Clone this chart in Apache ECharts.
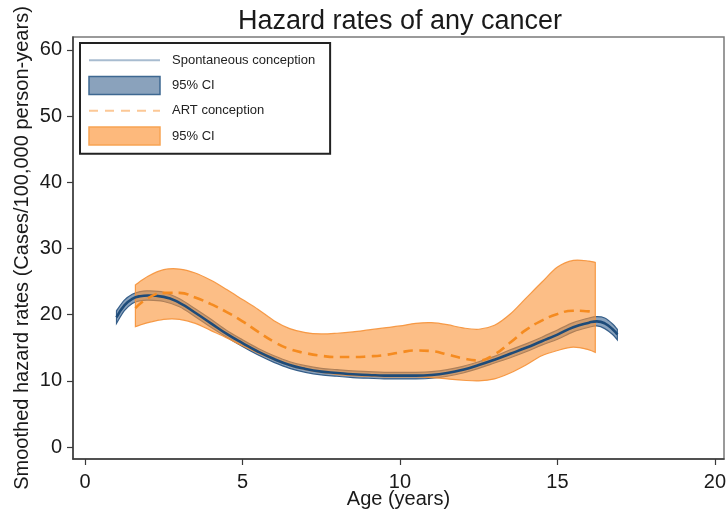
<!DOCTYPE html>
<html>
<head>
<meta charset="utf-8">
<script src="https://cdn.jsdelivr.net/npm/echarts@6/dist/echarts.min.js"></script>
<style>html,body{margin:0;padding:0;background:#fff}#c{width:726px;height:512px}</style>
</head>
<body>
<div id="c"></div>
<script>
// ---- Data ----
const xTicks = [0, 5, 10, 15, 20];
const yTicks = [0, 10, 20, 30, 40, 50, 60];

// Spontaneous conception (smoothed hazard + 95% CI)
const spAge   = [1.0, 1.25, 1.5, 1.75, 2.0, 2.5, 3.0, 3.5, 4.0, 4.5, 5.0, 5.5, 6.0, 6.5, 7.0, 7.5, 8.0, 8.5, 9.0, 9.5, 10.0, 10.5, 11.0, 11.5, 12.0, 12.5, 13.0, 13.5, 14.0, 14.5, 15.0, 15.5, 16.0, 16.25, 16.5, 16.75, 16.9];
const spRate  = [19.6, 21.4, 22.4, 22.8, 22.9, 22.7, 21.8, 20.3, 18.7, 17.1, 15.7, 14.4, 13.3, 12.4, 11.8, 11.4, 11.2, 11.0, 10.9, 10.8, 10.8, 10.8, 10.9, 11.2, 11.7, 12.4, 13.2, 14.1, 15.0, 16.0, 17.0, 18.1, 18.8, 19.0, 18.7, 17.8, 17.0];
const spLower = [18.7, 20.6, 21.7, 22.1, 22.2, 22.0, 21.2, 19.7, 18.1, 16.6, 15.2, 13.9, 12.8, 11.9, 11.3, 10.9, 10.7, 10.5, 10.4, 10.3, 10.3, 10.3, 10.4, 10.7, 11.2, 11.9, 12.7, 13.5, 14.4, 15.4, 16.3, 17.4, 18.1, 18.3, 17.9, 17.0, 16.2];
const spUpper = [20.6, 22.2, 23.1, 23.5, 23.6, 23.4, 22.4, 20.9, 19.3, 17.6, 16.2, 14.9, 13.8, 12.9, 12.3, 11.9, 11.7, 11.5, 11.4, 11.3, 11.3, 11.3, 11.4, 11.7, 12.2, 12.9, 13.7, 14.7, 15.6, 16.6, 17.7, 18.8, 19.5, 19.7, 19.5, 18.6, 17.8];

// ART conception (smoothed hazard + 95% CI)
const artAge   = [1.6, 2.0, 2.5, 3.0, 3.5, 4.0, 4.5, 5.0, 5.5, 6.0, 6.5, 7.0, 7.5, 8.0, 8.5, 9.0, 9.5, 10.0, 10.5, 11.0, 11.5, 12.0, 12.5, 13.0, 13.5, 14.0, 14.5, 15.0, 15.5, 16.0, 16.2];
const artRate  = [21.0, 22.5, 23.3, 23.3, 22.6, 21.6, 20.4, 19.0, 17.4, 15.9, 14.8, 14.2, 13.8, 13.6, 13.6, 13.7, 13.9, 14.3, 14.6, 14.5, 14.0, 13.4, 13.1, 14.0, 15.8, 17.7, 19.1, 20.1, 20.6, 20.5, 20.2];
const artLower = [18.2, 18.8, 19.3, 19.3, 18.7, 17.6, 16.5, 15.3, 14.2, 13.2, 12.3, 11.7, 11.3, 11.0, 10.8, 10.7, 10.6, 10.6, 10.6, 10.5, 10.3, 10.1, 10.0, 10.3, 11.2, 12.4, 13.8, 14.6, 15.1, 14.7, 14.3];
const artUpper = [24.5, 25.8, 26.8, 26.9, 26.3, 25.2, 23.8, 22.3, 20.8, 19.1, 17.9, 17.3, 17.1, 17.2, 17.4, 17.7, 18.0, 18.3, 18.7, 18.8, 18.5, 18.0, 17.8, 18.4, 20.1, 22.5, 24.9, 27.2, 28.2, 28.1, 27.9];

const seriesNames = ['Spontaneous conception', '95% CI (spontaneous)', 'ART conception', '95% CI (ART)'];

// ---- helpers ----
const pairs = (xs, ys) => xs.map((x, i) => [x, ys[i]]);
const triples = (xs, lo, hi) => xs.map((x, i) => [x, lo[i], hi[i]]);

// Catmull-Rom spline through pixel points -> SVG path commands
function splineCmds(pts, start) {
  let d = (start ? 'M' : 'L') + pts[0][0] + ',' + pts[0][1];
  for (let i = 0; i < pts.length - 1; i++) {
    const p0 = pts[Math.max(i - 1, 0)], p1 = pts[i], p2 = pts[i + 1], p3 = pts[Math.min(i + 2, pts.length - 1)];
    const c1x = p1[0] + (p2[0] - p0[0]) / 6, c1y = p1[1] + (p2[1] - p0[1]) / 6;
    const c2x = p2[0] - (p3[0] - p1[0]) / 6, c2y = p2[1] - (p3[1] - p1[1]) / 6;
    d += 'C' + c1x + ',' + c1y + ' ' + c2x + ',' + c2y + ' ' + p2[0] + ',' + p2[1];
  }
  return d;
}

function makeBand(name, xs, lo, hi, fill, stroke) {
  return {
    name: name, type: 'custom', silent: true,
    data: triples(xs, lo, hi),
    encode: {x: 0, y: [1, 2]},
    renderItem: function (params, api) {
      if (params.dataIndex !== 0) return null;
      const up = xs.map((x, i) => api.coord([x, hi[i]]));
      const dn = xs.map((x, i) => api.coord([x, lo[i]])).reverse();
      const d = splineCmds(up, true) + splineCmds(dn, false) + 'Z';
      return {
        type: 'path',
        shape: {pathData: d},
        style: {fill: fill, stroke: stroke, lineWidth: 1.2}
      };
    }
  };
}

const FONT = 'Liberation Sans, Arial, sans-serif';
const chart = echarts.init(document.getElementById('c'), null, {renderer: 'canvas'});

const option = {
  animation: false,
  backgroundColor: '#ffffff',
  textStyle: {fontFamily: FONT},
  title: {
    text: 'Hazard rates of any cancer',
    left: 395, top: 3, textAlign: 'center',
    textStyle: {fontFamily: FONT, fontSize: 27, fontWeight: 'normal', color: '#1a1a1a'}
  },
  grid: {
    left: 73, right: 2, top: 37, bottom: 53,
    containLabel: false, outerBoundsMode: 'none',
    show: true, borderColor: '#7a7a7a', borderWidth: 1.5, backgroundColor: '#fff'
  },
  legend: {
    orient: 'vertical', left: 80, top: 43,
    padding: [10, 15, 8, 8],
    itemWidth: 71, itemHeight: 18, itemGap: 8.3,
    borderColor: '#222', borderWidth: 2, backgroundColor: '#fff',
    selectedMode: false,
    textStyle: {fontFamily: FONT, fontSize: 13, color: '#222', padding: [0, 0, 0, 7]},
    formatter: n => n.indexOf('95% CI') === 0 ? '95% CI' : n,
    data: [
      {name: seriesNames[0], itemStyle: {opacity: 0}, lineStyle: {color: '#a8bcd0', width: 2, type: 'solid'}},
      {name: seriesNames[1], icon: 'rect', itemStyle: {color: '#8aa2bc', borderColor: '#3e6891', borderWidth: 1.5}},
      {name: seriesNames[2], itemStyle: {opacity: 0}, lineStyle: {color: '#fcc896', width: 2, type: [9, 7]}},
      {name: seriesNames[3], icon: 'rect', itemStyle: {color: '#fdb97c', borderColor: '#f8a453', borderWidth: 1.5}}
    ]
  },
  xAxis: {
    type: 'value', min: -0.381, max: 20.286,
    name: 'Age (years)', nameLocation: 'middle', nameGap: 30, nameMoveOverlap: false,
    nameTextStyle: {fontFamily: FONT, fontSize: 20, color: '#1a1a1a'},
    splitLine: {show: false},
    axisLine: {show: true, onZero: false, lineStyle: {color: '#3a3a3a', width: 1.5}},
    axisTick: {show: true, inside: false, customValues: xTicks, length: 6, lineStyle: {color: '#3a3a3a', width: 1.2}},
    axisLabel: {customValues: xTicks, fontSize: 20, color: '#1a1a1a', margin: 13, fontFamily: FONT}
  },
  yAxis: {
    type: 'value', min: -1.8, max: 61.96,
    name: 'Smoothed hazard rates (Cases/100,000 person-years)', nameLocation: 'middle', nameGap: 41, nameMoveOverlap: false,
    nameTextStyle: {fontFamily: FONT, fontSize: 20, color: '#1a1a1a'},
    splitLine: {show: false},
    axisLine: {show: true, onZero: false, lineStyle: {color: '#3a3a3a', width: 1.5}},
    axisTick: {show: true, inside: false, customValues: yTicks, length: 6, lineStyle: {color: '#3a3a3a', width: 1.2}},
    axisLabel: {customValues: yTicks, fontSize: 20, color: '#1a1a1a', margin: 11, fontFamily: FONT}
  },
  series: [
    makeBand(seriesNames[1], spAge, spLower, spUpper, '#8aa2bc', '#355e89'),
    makeBand(seriesNames[3], artAge, artLower, artUpper, 'rgba(250,150,60,0.62)', 'rgba(245,145,55,0.9)'),
    { // spontaneous smoothed hazard
      name: seriesNames[0], type: 'line', smooth: true, symbol: 'none', silent: true,
      data: pairs(spAge, spRate),
      lineStyle: {color: '#1d4b79', width: 2.6}
    },
    { // ART smoothed hazard
      name: seriesNames[2], type: 'line', smooth: true, symbol: 'none', silent: true,
      data: pairs(artAge, artRate),
      lineStyle: {color: '#f58b20', width: 2.6, type: [10, 6]}
    }
  ]
};
chart.setOption(option);
</script>
</body>
</html>
